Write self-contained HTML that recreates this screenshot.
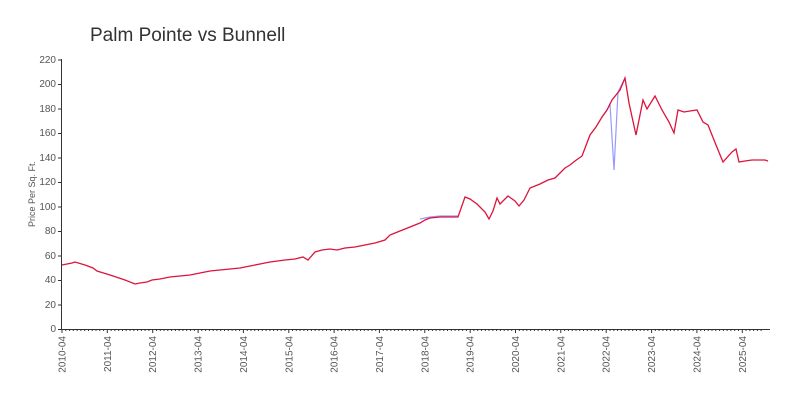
<!DOCTYPE html>
<html><head><meta charset="utf-8"><style>
body{margin:0;background:#fff;}
svg{display:block;font-family:"Liberation Sans",sans-serif;}
</style></head><body>
<svg width="800" height="400" viewBox="0 0 800 400">
<text x="90" y="41" font-size="19" fill="#333">Palm Pointe vs Bunnell</text>
<text transform="translate(35,194) rotate(-90)" font-size="9" fill="#555" text-anchor="middle">Price Per Sq. Ft.</text>
<g font-size="10" fill="#555" text-anchor="end">
<text x="56" y="332">0</text><text x="56" y="308">20</text><text x="56" y="283">40</text><text x="56" y="259">60</text><text x="56" y="234">80</text><text x="56" y="210">100</text><text x="56" y="185">120</text><text x="56" y="161">140</text><text x="56" y="136">160</text><text x="56" y="112">180</text><text x="56" y="87">200</text><text x="56" y="63">220</text>
</g>
<g stroke="#333" stroke-width="1">
<line x1="61.5" y1="59" x2="61.5" y2="329"/>
<line x1="61" y1="329.5" x2="770" y2="329.5"/>
<path d="M58 329.5h4M58 305h4M58 280.5h4M58 256h4M58 231.5h4M58 207h4M58 182.5h4M58 158h4M58 133.5h4M58 109h4M58 84.5h4M58 60h4"/>
</g>
<g id="xt" font-size="10" fill="#555"></g>
<polyline fill="none" stroke="#9999ff" stroke-width="1.2" points="420,219 430,217 440,216 450,216 458,216"/>
<polyline fill="none" stroke="#9999ff" stroke-width="1.2" points="602,117 607,110 610,104 614,170 618,92 625,78"/>
<polyline fill="none" stroke="#dc143c" stroke-width="1.3" points="62,265 72,263 75,262 85,265 93,268 97,271 110,275 125,280 135,284 140,283 147,282 152,280 160,279 170,277 180,276 190,275 200,273 210,271 220,270 230,269 240,268 250,266 260,264 270,262 285,260 295,259 303,257 308,260 315,252 322,250 330,249 337,250 345,248 355,247 365,245 375,243 385,240 390,235 395,233 400,231 410,227 420,223 425,220 430,218 440,217 450,217 458,217 465,197 470,199 477,204 485,212 489,219 493,211 497,198 500,204 508,196 515,201 519,206 524,200 530,188 540,184 548,180 555,178 560,173 565,168 570,165 575,161 582,156 590,135 596,127 602,117 607,110 612,100 620,90 625,78 629,103 636,135 643,100 647,109 655,96 662,110 669,122 674,133 678,110 684,112 690,111 697,110 703,122 708,125 716,145 723,162 732,152 736,149 739,162 745,161 752,160 765,160 768,161"/>
</svg>
<script>
var g=document.getElementById('xt'),s='',t='';
for(var m=0;m<=185;m++){var x=62+m*45.35/12;t+='M'+x.toFixed(1)+' 329v'+(m%12==0?4:2);}
for(var y=0;y<16;y++){var x=62+y*45.35;s+='<text transform="translate('+(x+3.5)+',336) rotate(-90)" text-anchor="end">'+(2010+y)+'-04</text>';}
g.innerHTML=s+'<path d="'+t+'" stroke="#333" stroke-width="1"/>';
</script>
</body></html>
